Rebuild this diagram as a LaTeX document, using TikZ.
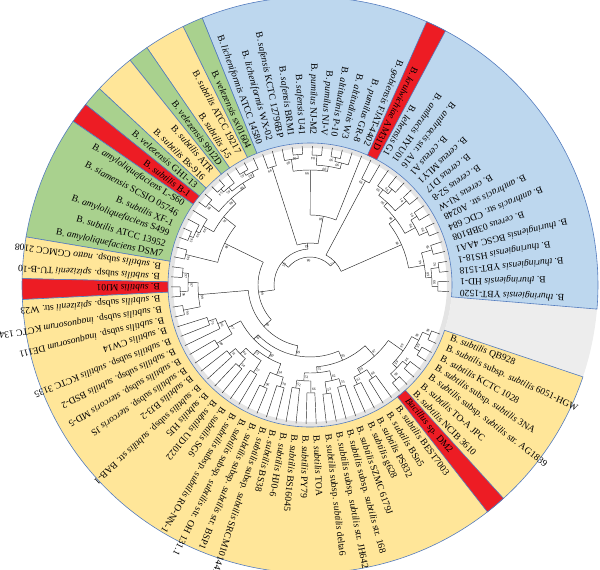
\documentclass[tikz,border=0pt]{standalone}
\usepackage{fontspec}
\setmainfont{Liberation Serif}

\definecolor{secblue}{RGB}{189,215,238}
\definecolor{secyellow}{RGB}{255,230,153}
\definecolor{secgreen}{RGB}{169,209,142}
\definecolor{secred}{RGB}{237,28,36}
\definecolor{gapgray}{RGB}{237,237,237}
\definecolor{ringgray}{RGB}{228,228,228}
\definecolor{rimline}{RGB}{84,124,190}

\tikzset{
  declare function={ang(\p)=-4.8+(\p-0.5)*4.171; edg(\p)=-4.8+\p*4.171;},
  branch/.style={line width=.45pt,black!85},
  leaf/.style={inner sep=0pt,font=\fontsize{9.6}{11}\selectfont},
  boot/.style={inner sep=0pt,font=\fontsize{3.6}{4}\selectfont},
}

\newcount\bootno

% setor colorido entre as folhas #1 e #2
\newcommand{\sectorfill}[3]{%
  \pgfmathsetmacro{\sfA}{edg(#1)}%
  \pgfmathsetmacro{\sfB}{edg(#2)}%
  \filldraw[fill=#3,draw=rimline,line width=.6pt] (\sfA:142pt) arc[start angle=\sfA,end angle=\sfB,radius=142pt]
    -- (\sfB:288pt) arc[start angle=\sfB,end angle=\sfA,radius=288pt] -- cycle;
}

% clado: arco de #1 a #2 no raio #3, haste ate o raio #4, suporte #5
\newcommand{\clade}[5]{%
  \pgfmathsetmacro{\clA}{ang(#1)}%
  \pgfmathsetmacro{\clB}{ang(#2)}%
  \pgfmathsetmacro{\clM}{(\clA+\clB)/2}%
  \pgfmathsetmacro{\clR}{#3-3.5}%
  \global\advance\bootno by 1
  \draw[branch] (\clA:#3pt) arc[start angle=\clA,end angle=\clB,radius=#3pt];
  \draw[branch] (\clM:#4pt) -- (\clM:#3pt);
  \node[boot,rotate=\clM+90] (bs\the\bootno) at (\clM+1.6:\clR pt) {#5};
}

\begin{document}
\begin{tikzpicture}

\useasboundingbox (-310pt,-285pt) rectangle (290pt,285pt);

% setores
\fill[ringgray,even odd rule] (0,0) circle (142pt) (0,0) circle (137pt);
\fill[gapgray] (341.4:142pt) arc[start angle=341.4,end angle=355.2,radius=142pt]
  -- (355.2:288pt) arc[start angle=355.2,end angle=341.4,radius=288pt] -- cycle;
\sectorfill{0}{28}{secblue}
\sectorfill{16}{17}{secred}
\sectorfill{28}{29}{secgreen}
\sectorfill{29}{31}{secyellow}
\sectorfill{31}{32}{secgreen}
\sectorfill{32}{34}{secyellow}
\sectorfill{34}{35}{secgreen}
\sectorfill{35}{36}{secred}
\sectorfill{36}{42}{secgreen}
\sectorfill{42}{44}{secyellow}
\sectorfill{44}{45}{secred}
\sectorfill{45}{83}{secyellow}
\sectorfill{75}{76}{secred}

% grupo cereus
\clade{1}{2}{128}{122}{99}
\clade{3}{4}{130}{122}{92}
\clade{1.5}{3.5}{122}{116}{68}
\clade{5}{6}{127}{116}{99}
\clade{2.5}{5.5}{116}{100}{46}
\clade{7}{8}{129}{120}{99}
\clade{9}{10}{127}{120}{85}
\clade{7.5}{9.5}{120}{108}{98}
\clade{11}{12}{128}{113}{81}
\clade{13}{14}{126}{120}{99}
\clade{13.5}{15}{120}{113}{99}
\clade{11.5}{14.25}{113}{108}{96}
\clade{8.5}{12.875}{108}{100}{98}
\clade{4}{10.6875}{100}{34}{99}
\clade{16}{17}{118}{34}{99}
\clade{7.34375}{16.5}{34}{28}{7}

% grupo pumilus
\clade{20}{21}{130}{126}{99}
\clade{19}{20.5}{126}{120}{99}
\clade{22}{23}{130}{120}{84}
\clade{19.75}{22.5}{120}{115}{99}
\clade{24}{25}{131}{127}{99}
\clade{24.5}{26}{127}{115}{99}
\clade{21.125}{25.25}{115}{70}{99}
\clade{18}{23.1875}{70}{42}{98}
\clade{27}{28}{124}{42}{99}
\clade{20.59375}{27.5}{42}{36}{63}

% grupo amyloliquefaciens
\clade{30}{31}{131}{127}{45}
\clade{29}{30.5}{127}{122}{83}
\clade{33}{34}{131}{127}{54}
\clade{32}{33.5}{127}{122}{65}
\clade{29.75}{32.75}{122}{117}{98}
\clade{35}{36}{130}{117}{99}
\clade{31.25}{35.5}{117}{110}{98}
\clade{39}{40}{130}{126}{95}
\clade{38}{39.5}{126}{122}{99}
\clade{37}{38.75}{122}{110}{99}
\clade{33.375}{37.875}{110}{95}{91}
\clade{41}{42}{128}{95}{99}
\clade{35.625}{41.5}{95}{52}{98}

% grupo subtilis
\clade{43}{44}{128}{122}{97}
\clade{45}{46}{130}{122}{96}
\clade{43.5}{45.5}{122}{112}{97}
\clade{47}{48}{129}{112}{99}
\clade{44.5}{47.5}{112}{62}{99}
\clade{49}{50}{108}{100}{79}
\clade{49.5}{51}{100}{92}{66}
\clade{52}{53}{110}{92}{99}
\clade{50.25}{52.5}{92}{78}{97}
\clade{54}{55}{106}{98}{51}
\clade{56}{57}{108}{98}{54}
\clade{54.5}{56.5}{98}{90}{46}
\clade{58}{59}{104}{90}{57}
\clade{55.5}{58.5}{90}{84}{72}
\clade{60}{61}{112}{96}{96}
\clade{62}{63}{106}{96}{58}
\clade{60.5}{62.5}{96}{84}{54}
\clade{57}{61.5}{84}{78}{89}
\clade{51.375}{59.25}{78}{72}{99}
\clade{64}{65}{104}{96}{52}
\clade{66}{67}{108}{96}{66}
\clade{64.5}{66.5}{96}{88}{51}
\clade{68}{69}{110}{98}{53}
\clade{70}{71}{106}{98}{55}
\clade{68.5}{70.5}{98}{88}{62}
\clade{65.5}{69.5}{88}{82}{75}
\clade{72}{73}{110}{102}{61}
\clade{74}{75}{112}{102}{68}
\clade{72.5}{74.5}{102}{96}{59}
\clade{76}{77}{128}{120}{98}
\clade{78}{79}{126}{120}{96}
\clade{76.5}{78.5}{120}{114}{99}
\clade{80}{81}{128}{122}{99}
\clade{82}{83}{130}{122}{99}
\clade{80.5}{82.5}{122}{114}{99}
\clade{77.5}{81.5}{114}{96}{99}
\clade{73.5}{79.5}{96}{82}{87}
\clade{67.5}{76.5}{82}{72}{93}
\clade{55.3125}{72}{72}{62}{99}
\clade{46}{63.65625}{62}{52}{99}

% espinha
\clade{38.5625}{54.828125}{52}{36}{99}
\clade{24.046875}{46.6953125}{36}{28}{55}
\clade{11.921875}{35.37109375}{28}{28}{98}

% folhas
\foreach \i/\pr/\txt in {
  1/128/{B. \textit{thuringiensis} YBT-1520},
  2/128/{B. \textit{thuringiensis} HD-1},
  3/130/{B. \textit{thuringiensis} YBT-1518},
  4/130/{B. \textit{thuringiensis} HS18-1},
  5/127/{B. \textit{thuringiensis} BGSC 4AA1},
  6/127/{B. \textit{cereus} 03BB108},
  7/129/{B. \textit{anthracis} str. CDC 684},
  8/129/{B. \textit{anthracis} str. A0248},
  9/127/{B. \textit{cereus} NJ-W},
  10/127/{B. \textit{cereus} S2-8},
  11/128/{B. \textit{cereus} D17},
  12/128/{B. \textit{cereus} MLY1},
  13/126/{B. \textit{cereus} A1},
  14/126/{B. \textit{anthracis} str. A16},
  15/120/{B. \textit{anthracis} HYU01},
  16/118/{B. \textit{lehensis} G1},
  17/118/{B. \textit{krulwichiae} AM31D},
  18/70/{B. \textit{gobiensis} FJAT-4402},
  19/126/{B. \textit{pumilus} GR-8},
  20/130/{B. \textit{altitudinis} W3},
  21/130/{B. \textit{altitudinis} P-10},
  22/130/{B. \textit{pumilus} NJ-V},
  23/130/{B. \textit{pumilus} NJ-M2},
  24/131/{B. \textit{safensis} U41},
  25/131/{B. \textit{safensis} BRM1},
  26/127/{B. \textit{safensis} KCTC 12796BP},
  27/124/{B. \textit{licheniformis} WX-02},
  28/124/{B. \textit{licheniformis} ATCC 14580},
  29/127/{B. \textit{velezensis} sx01604},
  30/131/{B. \textit{subtilis} ATCC 19217},
  31/131/{B. \textit{subtilis} J-5},
  32/127/{B. \textit{velezensis} 9912D},
  33/131/{B. \textit{subtilis} ATR},
  34/131/{B. \textit{subtilis} Bs-916},
  35/130/{B. \textit{velezensis} GH1-13},
  36/130/{B. \textit{subtilis} B-1},
  37/122/{B. \textit{amyloliquefaciens} L-S60},
  38/126/{B. \textit{siamensis} SCSIO 05746},
  39/130/{B. \textit{subtilis} XF-1},
  40/130/{B. \textit{amyloliquefaciens} S499},
  41/128/{B. \textit{subtilis} ATCC 13952},
  42/128/{B. \textit{amyloliquefaciens} DSM7},
  43/128/{B. \textit{subtilis} subsp. \textit{natto} CGMCC 2108},
  44/128/{B. \textit{subtilis} subsp. \textit{spizizenii} TU-B-10},
  45/130/{B. \textit{subtilis} MJ01},
  46/130/{B. \textit{subtilis} subsp. \textit{spizizenii} str. W23},
  47/129/{B. \textit{subtilis} subsp. \textit{inaquosorum} KCTC 13429},
  48/129/{B. \textit{subtilis} subsp. \textit{inaquosorum} DE111},
  49/108/{B. \textit{subtilis} CW14},
  50/108/{B. \textit{subtilis} subsp. \textit{subtilis} KCTC 3135},
  51/100/{B. \textit{subtilis} subsp. \textit{subtilis} BSD-2},
  52/110/{B. \textit{subtilis} subsp. \textit{stercoris} MD-5},
  53/110/{B. \textit{subtilis} subsp. \textit{stercoris} JS},
  54/106/{B. \textit{subtilis} BJ3-2},
  55/106/{B. \textit{subtilis} subsp. \textit{subtilis} str. BAB-1},
  56/108/{B. \textit{subtilis} HJ5},
  57/108/{B. \textit{subtilis} UD1022},
  58/104/{B. \textit{subtilis} SG6},
  59/104/{B. \textit{subtilis} subsp. \textit{subtilis} RO-NN-1},
  60/112/{B. \textit{subtilis} subsp. \textit{subtilis} str. OH 131.1},
  61/112/{B. \textit{subtilis} subsp. \textit{subtilis} str. BSP1},
  62/106/{B. \textit{subtilis} subsp. \textit{subtilis} SRCM101441},
  63/106/{B. \textit{subtilis} BS38},
  64/104/{B. \textit{subtilis} HJ0-6},
  65/104/{B. \textit{subtilis} BS16045},
  66/108/{B. \textit{subtilis} PY79},
  67/108/{B. \textit{subtilis} TOA},
  68/110/{B. \textit{subtilis} subsp. \textit{subtilis} delta6},
  69/110/{B. \textit{subtilis} subsp. \textit{subtilis} str. JH642},
  70/106/{B. \textit{subtilis} subsp. \textit{subtilis} str. 168},
  71/106/{B. \textit{subtilis} SZMC 6179J},
  72/110/{B. \textit{subtilis} g628},
  73/110/{B. \textit{subtilis} PS832},
  74/112/{B. \textit{subtilis} BSn5},
  75/112/{B. \textit{subtilis} BEST7003},
  76/128/{\textit{Bacillus} sp. DM2},
  77/128/{B. \textit{subtilis} NCIB 3610},
  78/126/{B. \textit{subtilis} TO-A JPC},
  79/126/{B. \textit{subtilis} subsp. \textit{subtilis} str. AG1839},
  80/128/{B. \textit{subtilis} subsp. \textit{subtilis} 3NA},
  81/128/{B. \textit{subtilis} KCTC 1028},
  82/130/{B. \textit{subtilis} subsp. \textit{subtilis} 6051-HGW},
  83/130/{B. \textit{subtilis} QB928}}{
  \pgfmathsetmacro{\lang}{ang(\i)}
  \draw[branch] (\lang:\pr pt) -- (\lang:139pt);
  \ifnum\i<43
    \node[leaf,anchor=east,rotate=\lang+180] (l\i) at (\lang:150pt) {\txt};
  \else
    \node[leaf,anchor=west,rotate=\lang] (l\i) at (\lang:150pt) {\txt};
  \fi
}

\end{tikzpicture}
\end{document}
